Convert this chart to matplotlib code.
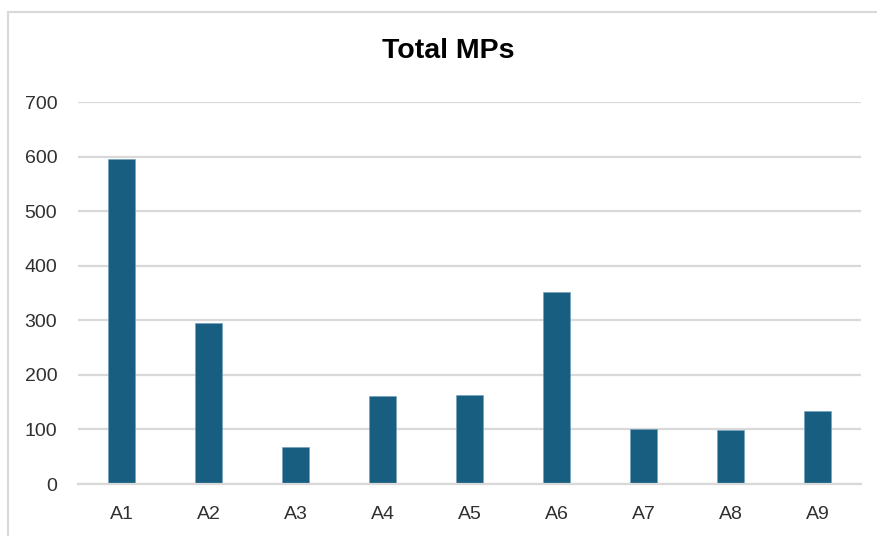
import matplotlib.pyplot as plt
from matplotlib.patches import Rectangle

# Total MPs per sample
categories = ['A1', 'A2', 'A3', 'A4', 'A5', 'A6', 'A7', 'A8', 'A9']
total_mps = [596, 295, 68, 162, 164, 352, 101, 99, 134]
y_ticks = [0, 100, 200, 300, 400, 500, 600, 700]

bar_color = '#175e81'
grid_color = '#d9d9d9'
text_color = '#303030'

plt.rcParams['font.family'] = ['Liberation Sans', 'DejaVu Sans']

fig = plt.figure(figsize=(8.77, 5.36), dpi=100)
ax = fig.add_axes([0.0889, 0.097, 0.8934, 0.712])

x = range(len(categories))
ax.bar(x, total_mps, width=0.31, color=bar_color,
       edgecolor='#6f9fbd', linewidth=0.4, zorder=3)

ax.set_xlim(-0.5, len(categories) - 0.5)
ax.set_ylim(0, 700)
ax.set_yticks(y_ticks)
ax.set_xticks(list(x))
ax.set_xticklabels(categories)

ax.grid(axis='y', color=grid_color, linewidth=1.6, zorder=0)
for side in ['top', 'right', 'left']:
    ax.spines[side].set_visible(False)
ax.spines['bottom'].set_color(grid_color)
ax.spines['bottom'].set_linewidth(1.6)
ax.spines['bottom'].set_zorder(4)

ax.tick_params(axis='both', length=0, labelsize=14, labelcolor=text_color)
ax.tick_params(axis='y', pad=15)
ax.tick_params(axis='x', pad=15.5)

fig.text(0.511, 0.905, 'Total MPs', ha='center', va='center',
         fontsize=20.5, fontweight='bold', color='black')

# light chart-area frame
fig.patches.append(Rectangle((8 / 877, -0.1), 1.2, 1.1 - 12 / 536,
                             transform=fig.transFigure, fill=False,
                             edgecolor=grid_color, linewidth=1.5,
                             clip_on=False))

fig.savefig('out.png', dpi=100)
